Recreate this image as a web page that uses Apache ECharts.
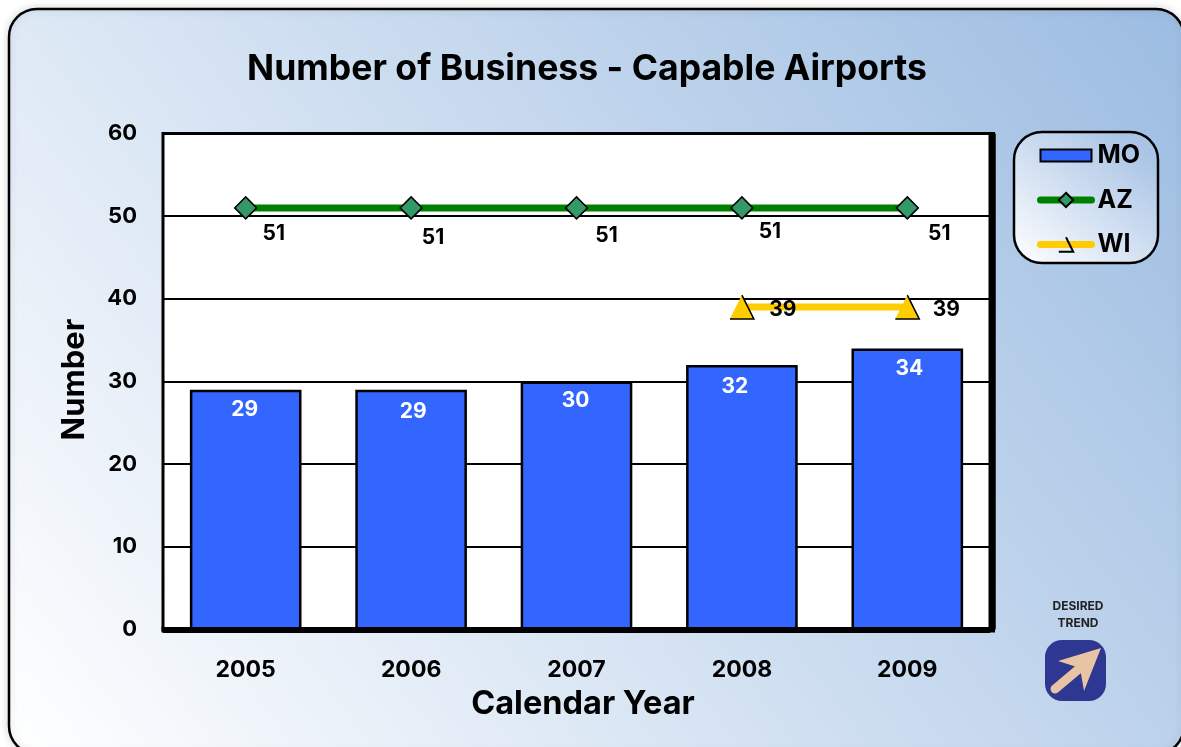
<!DOCTYPE html>
<html><head><meta charset="utf-8">
<style>html,body{margin:0;padding:0;background:#fff}#c{width:1181px;height:747px}</style>
<script src="https://cdn.jsdelivr.net/npm/echarts@6/dist/echarts.min.js"></script>
</head><body><div id="c"></div>
<script>
const titleText = 'Number of Business - Capable Airports';
const years = ['2005','2006','2007','2008','2009'];
const moValues = [29,29,30,32,34];
const azValues = [51,51,51,51,51];
const wiValues = [null,null,null,39,39];
const yTicks = {min:0,max:60,interval:10};
const moLabelOffsets = [[-1,3],[2,5],[-1,3],[-7,5],[2,4]];
const azLabelOffsets = [[28,1],[22,5],[30,3],[28,-1],[32,1]];
const wiLabelOffsets = [[0,0],[0,0],[0,0],[41,3],[39,3]];
const FONT = 'Inter, sans-serif';
const TRIANGLE = 'path://M0 24H24L12 0';
const LEGEND_BAR = 'path://M0 0L0 0M51 18L51 18M0 3H51V15H0Z';
const chart = echarts.init(document.getElementById('c'),null,{renderer:'canvas'});
const stops = (a,b)=>[{offset:0,color:a},{offset:1,color:b}];
const panelFill = new echarts.graphic.LinearGradient(9,754,1085,-82,stops('#ffffff','#9dbde2'),true);
const legendFill = new echarts.graphic.LinearGradient(1014,263,1120,130,stops('#ffffff','#a9c4e5'),true);
chart.setOption({
  animation:false,
  backgroundColor:'#fff',
  title:{text:titleText,left:582,top:46,textAlign:'center',
    textStyle:{fontFamily:FONT,fontSize:35.6,fontWeight:700,color:'#000'}},
  grid:{left:163,top:133.5,width:827,height:496,show:true,backgroundColor:'#fff',borderColor:'#000',borderWidth:3},
  legend:{orient:'vertical',left:1032,top:138,itemWidth:51,itemHeight:18,itemGap:19.5,
    textStyle:{fontFamily:FONT,fontSize:25,fontWeight:700,color:'#000',padding:[0,0,0,1]},
    lineStyle:{width:7,cap:'round'},
    data:[{name:'MO',icon:LEGEND_BAR},{name:'AZ'},
      {name:'WI',itemStyle:{color:'transparent'}}]},
  xAxis:{type:'category',data:years,
    axisLine:{lineStyle:{color:'#000',width:6,cap:'butt'}},axisTick:{show:false},
    axisLabel:{fontFamily:FONT,fontSize:23,fontWeight:700,color:'#000',margin:29.5},
    name:'Calendar Year',nameLocation:'middle',nameGap:58,
    nameTextStyle:{fontFamily:FONT,fontSize:32.5,fontWeight:700,color:'#000',padding:[0,0,0,13]},z:5},
  yAxis:[{type:'value',min:yTicks.min,max:yTicks.max,interval:yTicks.interval,
    axisLine:{show:false},axisTick:{show:false},
    splitLine:{lineStyle:{color:'#000',width:2}},
    axisLabel:{fontFamily:FONT,fontSize:22,fontWeight:700,color:'#000',margin:26,padding:[3,0,0,0]},
    name:'Number',nameLocation:'middle',nameGap:73,
    nameTextStyle:{fontFamily:FONT,fontSize:31,fontWeight:700,color:'#000',padding:[0,0,0,4]}},
   {type:'value',position:'right',offset:2.25,min:yTicks.min,max:yTicks.max,interval:yTicks.interval,
    axisLine:{show:true,lineStyle:{color:'#000',width:5.5,cap:'butt'}},axisTick:{show:false},
    splitLine:{show:false},axisLabel:{show:false},z:5}],
  series:[
    {name:'MO',type:'bar',barWidth:'67.5%',z:3,
      itemStyle:{color:'#3366ff',borderColor:'#000',borderWidth:2.5},
      data:moValues.map((v,i)=>({value:v,label:{offset:moLabelOffsets[i]}})),
      label:{show:true,position:'insideTop',distance:6,color:'#fff',fontFamily:FONT,fontSize:21,fontWeight:700}},
    {name:'AZ',type:'line',z:4,symbol:'diamond',symbolSize:22,
      lineStyle:{color:'#008000',width:7},
      itemStyle:{color:'#339966',borderColor:'#000',borderWidth:1.5},
      data:azValues.map((v,i)=>({value:v,label:{offset:azLabelOffsets[i]}})),
      label:{show:true,position:'bottom',distance:3,color:'#000',fontFamily:FONT,fontSize:21,fontWeight:700}},
    {name:'WI',type:'line',z:4,symbol:TRIANGLE,symbolSize:24,
      lineStyle:{color:'#ffcc00',width:7},
      itemStyle:{color:'#ffcc00',borderColor:'#000',borderWidth:1.5},
      data:wiValues.map((v,i)=>({value:v,label:{offset:wiLabelOffsets[i]}})),
      label:{show:true,position:'inside',color:'#000',fontFamily:FONT,fontSize:21,fontWeight:700}}
  ],
  graphic:[
    {type:'rect',z:-10,shape:{x:9,y:9,width:1175,height:745,r:28},
      style:{fill:panelFill,stroke:'#000',lineWidth:2.5,shadowBlur:8,shadowColor:'rgba(0,0,0,0.15)'}},
    {type:'rect',z:-5,shape:{x:1014,y:132,width:144,height:131,r:28},
      style:{fill:legendFill,stroke:'#000',lineWidth:2.5}},
    {type:'rect',z:7,shape:{x:161.5,y:626.5,width:2,height:6},style:{fill:'#000'}},
    {type:'rect',z:7,shape:{x:989.5,y:626.5,width:5.5,height:6},style:{fill:'#000'}},
    {type:'rect',z:7,shape:{x:989.5,y:132,width:5.5,height:2},style:{fill:'#000'}},
    {type:'text',z:5,style:{x:1078,y:606,text:'DESIRED',align:'center',verticalAlign:'middle',
      font:'700 12px '+FONT,fill:'#222'}},
    {type:'text',z:5,style:{x:1078,y:623,text:'TREND',align:'center',verticalAlign:'middle',
      font:'700 12px '+FONT,fill:'#222'}},
    {type:'rect',z:5,shape:{x:1045,y:640,width:61,height:61,r:17},style:{fill:'#2e3791'}},
    {type:'line',z:6,shape:{x1:1055,y1:689,x2:1080,y2:668},style:{stroke:'#e8c4a4',lineWidth:9,lineCap:'round'}},
    {type:'polygon',z:6,shape:{points:[[1101,648],[1084,691],[1080,668],[1058,661]]},style:{fill:'#e8c4a4'}}
  ]
});
</script></body></html>
